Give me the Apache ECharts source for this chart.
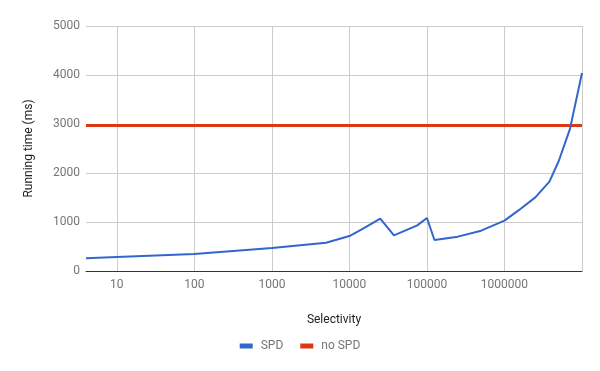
<!DOCTYPE html>
<html><head><meta charset="utf-8">
<script src="https://cdn.jsdelivr.net/npm/echarts@6/dist/echarts.min.js"></script>
<style>html,body{margin:0;padding:0;background:#fff}#c{width:600px;height:371px}</style>
</head><body><div id="c"></div>
<script>
const selectivity = [4, 10, 100, 1000, 5000, 10000, 15000, 25000, 37500, 75000, 100000, 125000, 250000, 500000, 1000000, 1500000, 2500000, 3800000, 5000000, 7000000, 10000000];
const spdTime = [259, 286, 347, 469, 578, 714, 863, 1067, 728, 932, 1082, 633, 701, 823, 1027, 1231, 1503, 1823, 2240, 2900, 4040];
const noSpdSelectivity = [4, 10000000];
const noSpdTime = [2970, 2970];
const seriesNames = ['SPD', 'no SPD'];

const chart = echarts.init(document.getElementById('c'));
const font = 'Roboto, Arial, sans-serif';
chart.setOption({
  animation: false,
  color: ['#3366cc', '#dc3912'],
  grid: {left: 86, right: 18, top: 26, bottom: 100, containLabel: false},
  legend: {
    bottom: 14, left: 'center', icon: 'rect', itemWidth: 13, itemHeight: 5, itemGap: 17,
    textStyle: {color: '#757575', fontSize: 12, fontFamily: font, padding: [0, 0, 0, 3]},
    data: seriesNames
  },
  xAxis: {
    type: 'log', logBase: 10, min: 4, max: 10000000,
    name: 'Selectivity', nameLocation: 'middle', nameGap: 43,
    nameTextStyle: {color: '#222', fontSize: 12, fontFamily: font},
    axisLine: {show: true, lineStyle: {color: '#333', width: 1}},
    axisTick: {show: false},
    axisLabel: {color: '#757575', fontSize: 12, fontFamily: font, showMinLabel: false, showMaxLabel: false, margin: 8,
      formatter: v => String(Math.round(v))},
    splitLine: {show: true, lineStyle: {color: ['rgba(0,0,0,0)', '#cccccc', '#cccccc', '#cccccc', '#cccccc', '#cccccc', '#cccccc', '#cccccc'], width: 1}},
    minorTick: {show: false}
  },
  yAxis: {
    type: 'value', min: 0, max: 5000, interval: 1000,
    name: 'Running time (ms)', nameLocation: 'middle', nameGap: 51,
    nameTextStyle: {color: '#222', fontSize: 12, fontFamily: font},
    axisLine: {show: false}, axisTick: {show: false},
    axisLabel: {color: '#757575', fontSize: 12, fontFamily: font, margin: 6, formatter: v => String(v)},
    splitLine: {lineStyle: {color: '#cccccc', width: 1}}
  },
  series: [
    {name: seriesNames[0], type: 'line', showSymbol: false, symbol: 'none', z: 3,
     lineStyle: {width: 2, color: '#3366cc'},
     data: selectivity.map((x, i) => [x, spdTime[i]])},
    {name: seriesNames[1], type: 'line', showSymbol: false, symbol: 'none', z: 2,
     lineStyle: {width: 3, color: '#dc3912'},
     data: noSpdSelectivity.map((x, i) => [x, noSpdTime[i]])}
  ]
});
</script></body></html>
